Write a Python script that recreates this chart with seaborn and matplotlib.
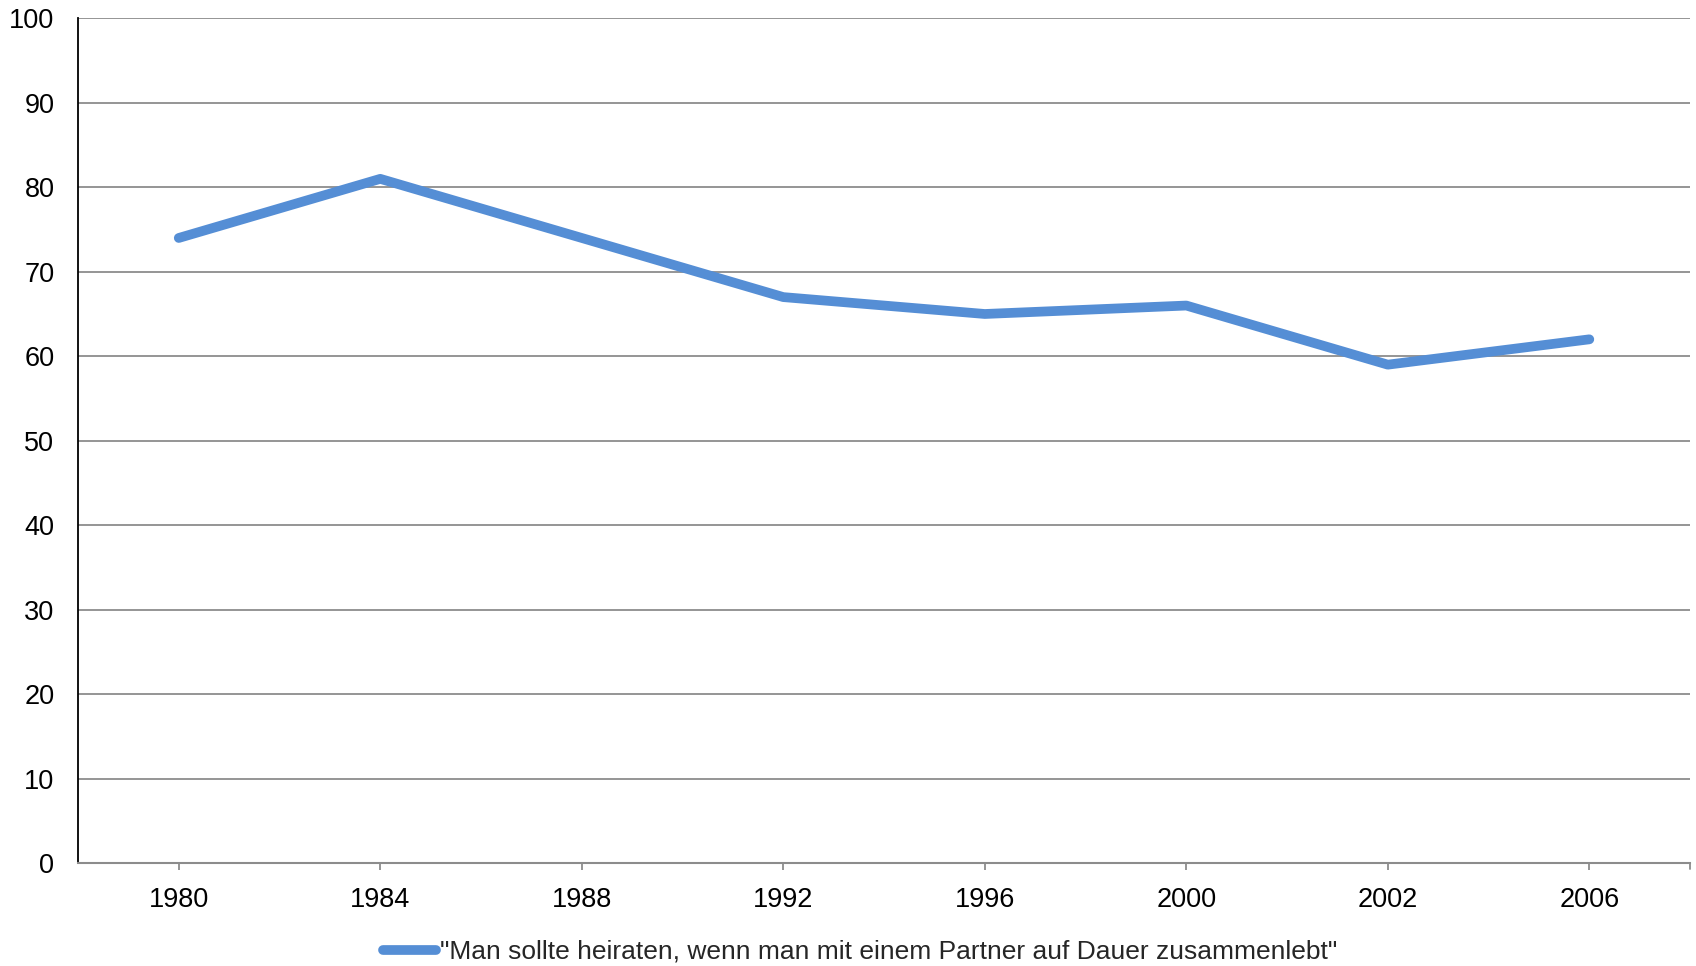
import matplotlib
matplotlib.use("Agg")
import matplotlib.pyplot as plt
import seaborn as sns
import pandas as pd

years = ["1980", "1984", "1988", "1992", "1996", "2000", "2002", "2006"]
values = [74, 81, 74, 67, 65, 66, 59, 62]
series_label = '"Man sollte heiraten, wenn man mit einem Partner auf Dauer zusammenlebt"'
y_ticks = [0, 10, 20, 30, 40, 50, 60, 70, 80, 90, 100]

sns.set_theme(style="white")
plt.rcParams["font.family"] = ["Liberation Sans", "DejaVu Sans"]

df = pd.DataFrame({"Jahr": years, "Anteil": values})

fig = plt.figure(figsize=(16.96, 9.66), dpi=100)
ax = fig.add_axes([0.046, 0.1066, 0.9505, 0.8744])

sns.lineplot(data=df, x="Jahr", y="Anteil", ax=ax, color="#558ED5",
             linewidth=7, sort=False, label=series_label,
             solid_capstyle="round", solid_joinstyle="round")

ax.set_xlim(-0.5, 7.5)
ax.set_ylim(0, 100)
ax.set_yticks(y_ticks)
ax.set_xlabel("")
ax.set_ylabel("")

for y in y_ticks[1:]:
    ax.axhline(y, color="#8C8C8C", linewidth=1.3, zorder=0)

for side in ["top", "right"]:
    ax.spines[side].set_visible(False)
ax.spines["left"].set_color("#000000")
ax.spines["left"].set_linewidth(1.3)
ax.spines["bottom"].set_color("#8C8C8C")
ax.spines["bottom"].set_linewidth(1.5)

ax.tick_params(axis="y", length=0, pad=17, labelsize=19.5, labelcolor="#000000")
ax.tick_params(axis="x", bottom=True, direction="out", length=5, width=1.3,
               color="#8C8C8C", pad=12, labelsize=19.5, labelcolor="#000000")
# closing tick at the right end of the category axis
ax.axvline(7.5, ymin=-0.007, ymax=0.0, color="#8C8C8C", linewidth=1.3, clip_on=False)

ax.get_legend().remove()
handles, labels = ax.get_legend_handles_labels()
fig.legend(handles, labels, loc="center", bbox_to_anchor=(860 / 1696, 1 - 952 / 966),
           frameon=False, fontsize=19, handlelength=2.0, handletextpad=0.15)

fig.savefig("out.png", dpi=100)
